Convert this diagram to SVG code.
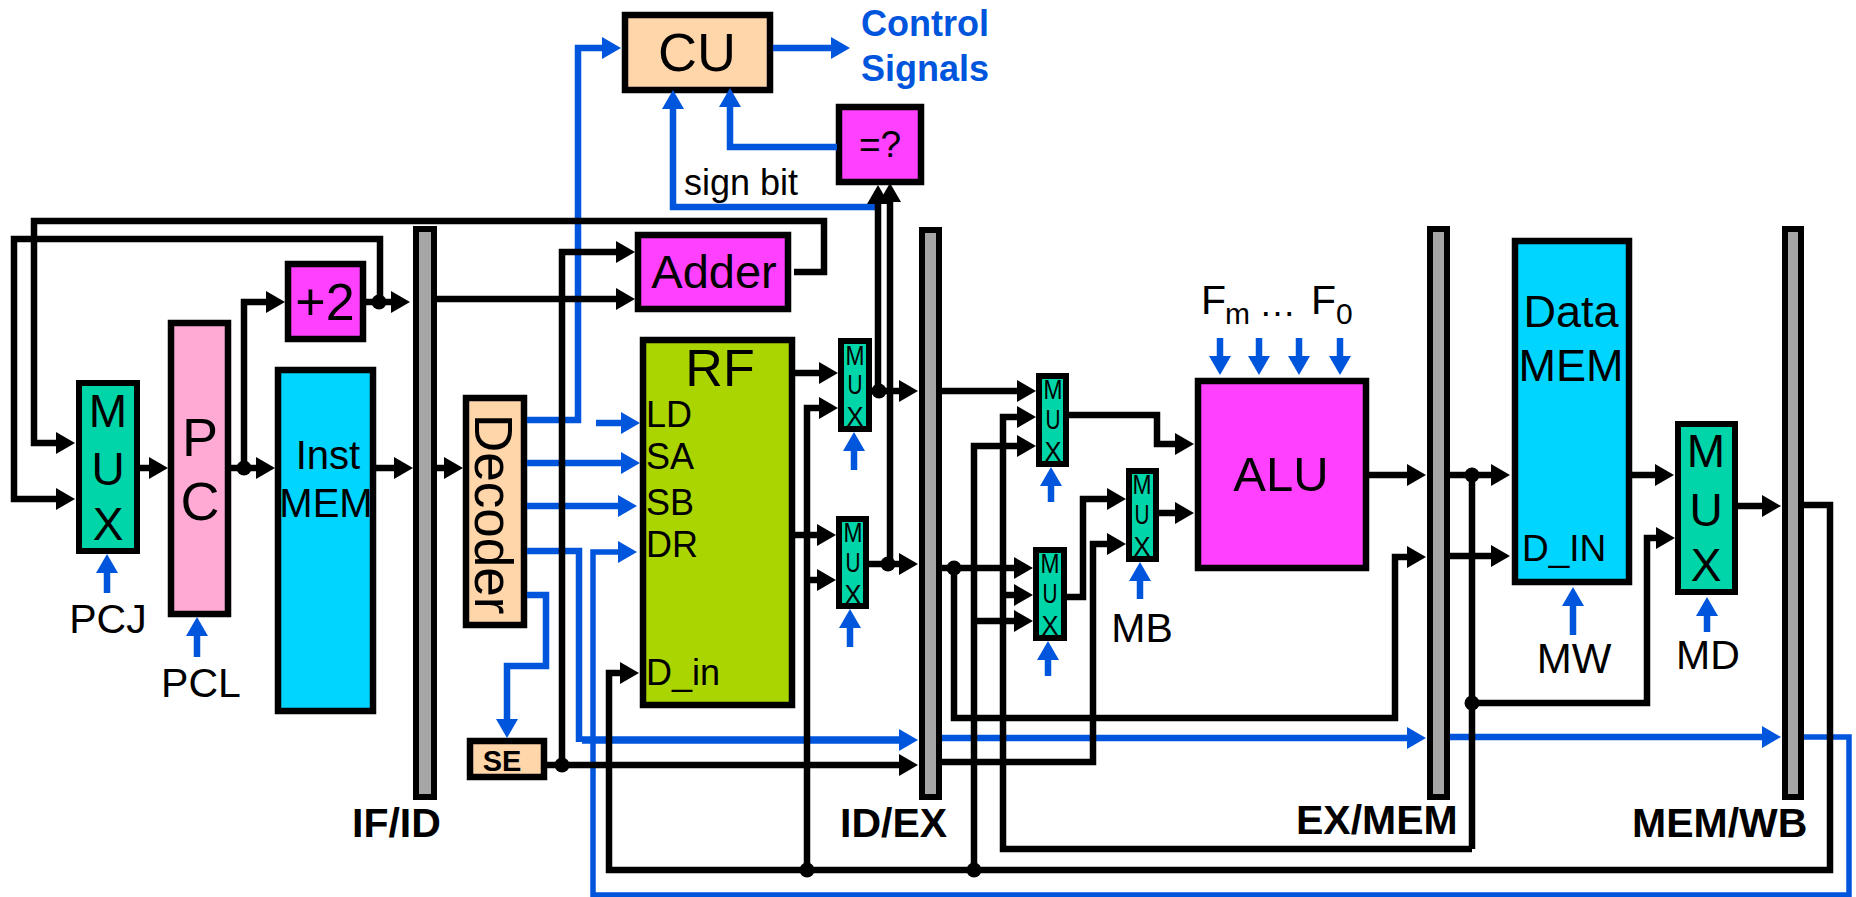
<svg xmlns="http://www.w3.org/2000/svg" width="1856" height="897" viewBox="0 0 1856 897">
<style>
text{font-family:"Liberation Sans",Arial,sans-serif;fill:#000}
.n{stroke:#000;stroke-width:6.5}
.m{fill:#00d5aa;stroke:#000;stroke-width:6}
.bar{fill:#a6a6a6;stroke:#000;stroke-width:6}
.c{text-anchor:middle}
.b{font-weight:bold}
.k{fill:none;stroke:#000;stroke-width:6.5;stroke-linejoin:miter}
.ka{marker-end:url(#ah)}
.u{fill:none;stroke:#0055dd;stroke-width:6.5;stroke-linejoin:miter}
.ua{marker-end:url(#aj)}
.s{font-size:28px;text-anchor:middle}
.l{font-size:46px;text-anchor:middle}
.r{font-size:36px}
.bl{fill:#0055dd}
</style>
<defs>
<marker id="ah" markerUnits="userSpaceOnUse" markerWidth="20" markerHeight="24" refX="1" refY="12" orient="auto"><polygon points="0,1 19,12 0,23" fill="#000"/></marker>
<marker id="aj" markerUnits="userSpaceOnUse" markerWidth="20" markerHeight="24" refX="1" refY="12" orient="auto"><polygon points="0,1 19,12 0,23" fill="#0055dd"/></marker>
</defs>
<rect width="1856" height="897" fill="#fff"/>
<g id="mux-pc"><rect class="m" x="79" y="383" width="58" height="168"/><text class="l" x="108" y="427">M</text><text class="l" x="108" y="485">U</text><text class="l" x="108" y="540">X</text></g>
<g id="pc"><rect class="n" fill="#ffaad5" x="171" y="323" width="57" height="291"/><text class="c" font-size="54" x="200" y="456">P</text><text class="c" font-size="54" x="200" y="520">C</text></g>
<g id="plus2"><rect class="n" fill="#ff40ff" x="288" y="264" width="75" height="75"/><text class="c" font-size="52" x="325" y="320">+2</text></g>
<g id="inst-mem"><rect class="n" fill="#00d5ff" x="278" y="370" width="95" height="341"/><text class="c" font-size="40" x="328" y="469">Inst</text><text class="c" font-size="40" x="326" y="517">MEM</text></g>
<g id="if-id"><rect class="bar" x="416" y="229" width="18" height="568"/><text class="b" font-size="41" x="352" y="837">IF/ID</text></g>
<g id="decoder"><rect class="n" fill="#ffd5aa" x="466" y="398" width="58" height="227"/><text font-size="53" transform="translate(475 414) rotate(90)">Decoder</text></g>
<g id="se"><rect class="n" fill="#ffd5aa" x="470" y="741" width="74" height="36"/><text class="c b" font-size="29" x="502" y="771">SE</text></g>
<g id="cu"><rect class="n" fill="#ffd5aa" x="625" y="15" width="145" height="75"/><text class="c" font-size="54" x="697" y="71">CU</text></g>
<g id="control-signals"><text class="b bl" font-size="36" style="fill:#0055dd" x="861" y="36">Control</text><text class="b bl" font-size="36" style="fill:#0055dd" x="861" y="81">Signals</text></g>
<g id="equal"><rect class="n" fill="#ff40ff" x="839" y="107" width="82" height="75"/><text class="c" font-size="37" x="880" y="157">=?</text></g>
<g id="sign-bit"><text font-size="36" x="684" y="195">sign bit</text></g>
<g id="adder"><rect class="n" fill="#ff40ff" x="638" y="235" width="150" height="74"/><text class="c" font-size="47" x="714" y="288">Adder</text></g>
<g id="rf"><rect class="n" fill="#aad500" x="643" y="340" width="149" height="365"/><text class="c" font-size="52" x="720" y="386">RF</text><text class="r" x="646" y="427">LD</text><text class="r" x="646" y="469">SA</text><text class="r" x="646" y="515">SB</text><text class="r" x="646" y="557">DR</text><text class="r" x="646" y="685">D_in</text></g>
<g id="mux-a"><rect class="m" x="841" y="341" width="28" height="88"/><text class="s" x="855" y="365" textLength="19" lengthAdjust="spacingAndGlyphs">M</text><text class="s" x="855" y="394" textLength="15" lengthAdjust="spacingAndGlyphs">U</text><text class="s" x="855" y="426" textLength="17" lengthAdjust="spacingAndGlyphs">X</text></g>
<g id="mux-b"><rect class="m" x="839" y="519" width="27" height="87"/><text class="s" x="853" y="542" textLength="19" lengthAdjust="spacingAndGlyphs">M</text><text class="s" x="853" y="572" textLength="15" lengthAdjust="spacingAndGlyphs">U</text><text class="s" x="853" y="604" textLength="17" lengthAdjust="spacingAndGlyphs">X</text></g>
<g id="id-ex"><rect class="bar" x="922" y="230" width="17" height="567"/><text class="b" font-size="41" x="840" y="837">ID/EX</text></g>
<g id="mux-c"><rect class="m" x="1039" y="376" width="27" height="88"/><text class="s" x="1053" y="399" textLength="19" lengthAdjust="spacingAndGlyphs">M</text><text class="s" x="1053" y="429" textLength="15" lengthAdjust="spacingAndGlyphs">U</text><text class="s" x="1053" y="461" textLength="17" lengthAdjust="spacingAndGlyphs">X</text></g>
<g id="mux-d"><rect class="m" x="1036" y="550" width="28" height="88"/><text class="s" x="1050" y="573" textLength="19" lengthAdjust="spacingAndGlyphs">M</text><text class="s" x="1050" y="603" textLength="15" lengthAdjust="spacingAndGlyphs">U</text><text class="s" x="1050" y="635" textLength="17" lengthAdjust="spacingAndGlyphs">X</text></g>
<g id="mux-e"><rect class="m" x="1129" y="471" width="27" height="88"/><text class="s" x="1142" y="494" textLength="19" lengthAdjust="spacingAndGlyphs">M</text><text class="s" x="1142" y="524" textLength="15" lengthAdjust="spacingAndGlyphs">U</text><text class="s" x="1142" y="556" textLength="17" lengthAdjust="spacingAndGlyphs">X</text><text class="c" font-size="41" x="1142" y="642">MB</text></g>
<g id="alu"><rect class="n" fill="#ff40ff" x="1198" y="381" width="168" height="187"/><text class="c" font-size="49" x="1281" y="491">ALU</text></g>
<g id="alu-select"><text font-size="41"><tspan x="1201" y="314">F</tspan><tspan x="1225" y="324" font-size="30">m</tspan><tspan x="1259" y="316" font-size="37">…</tspan><tspan x="1311" y="314">F</tspan><tspan x="1336" y="324" font-size="30">0</tspan></text></g>
<g id="ex-mem"><rect class="bar" x="1430" y="229" width="17" height="568"/><text class="b" font-size="41" x="1296" y="834">EX/MEM</text></g>
<g id="data-mem"><rect class="n" fill="#00d5ff" x="1515" y="241" width="114" height="341"/><text class="c" font-size="45" x="1571" y="327">Data</text><text class="c" font-size="45" x="1571" y="381">MEM</text><text font-size="37" x="1522" y="561">D_IN</text><text class="c" font-size="42" x="1574" y="673">MW</text></g>
<g id="mux-wb"><rect class="m" x="1678" y="424" width="57" height="168"/><text class="l" x="1706" y="467">M</text><text class="l" x="1706" y="526">U</text><text class="l" x="1706" y="581">X</text><text class="c" font-size="41" x="1708" y="669">MD</text></g>
<g id="mem-wb"><rect class="bar" x="1785" y="229" width="16" height="568"/><text class="b" font-size="41" x="1632" y="837">MEM/WB</text></g>
<g id="pc-labels"><text class="c" font-size="41" x="108" y="633">PCJ</text><text class="c" font-size="41" x="201" y="697">PCL</text></g>
<g id="connectors">
<path class="u ua" d="M527 420H578V48H603"/>
<path class="u ua" d="M596 423H622"/>
<path class="u ua" d="M527 463H622"/>
<path class="u ua" d="M527 506H619"/>
<path class="u" d="M527 551H579V742"/>
<path class="u ua" d="M527 595H546V666H507V720"/>
<path class="u ua" d="M1804 737H1849V895H593V552H619" style="stroke-width:5.5"/>
<path class="u ua" d="M582 740H900" style="stroke-width:7.5"/>
<path class="u ua" d="M942 738H1408"/>
<path class="u ua" d="M1450 737H1763"/>
<path class="u ua" d="M773 48H832"/>
<path class="u ua" d="M878 207H673V108"/>
<path class="u ua" d="M837 147H730V106"/>
<path class="u ua" d="M107 593V572"/>
<path class="u ua" d="M197 657V635"/>
<path class="u ua" d="M854 470V450"/>
<path class="u ua" d="M850 647V627"/>
<path class="u ua" d="M1051 502V485"/>
<path class="u ua" d="M1048 676V659"/>
<path class="u ua" d="M1140 599V580"/>
<path class="u ua" d="M1220 338V357"/>
<path class="u ua" d="M1259 338V357"/>
<path class="u ua" d="M1299 338V357"/>
<path class="u ua" d="M1340 338V357"/>
<path class="u ua" d="M1573 635V605"/>
<path class="u ua" d="M1707 632V615"/>
<path class="k ka" d="M794 272H824V221H34V443H57"/>
<path class="k ka" d="M380 302V239H14V499H57"/>
<path class="k ka" d="M140 468H150"/>
<path class="k ka" d="M231 468H257"/>
<path class="k ka" d="M244 468V302H267"/>
<path class="k ka" d="M366 302H392"/>
<path class="k ka" d="M376 468H395"/>
<path class="k ka" d="M436 468H445"/>
<path class="k ka" d="M436 299H617"/>
<path class="k ka" d="M562 765V252H617"/>
<path class="k ka" d="M547 765H900"/>
<path class="k ka" d="M795 373H820"/>
<path class="k ka" d="M807 870V408H820"/>
<path class="k ka" d="M795 535H818"/>
<path class="k ka" d="M807 580H818"/>
<path class="k ka" d="M872 391H900"/>
<path class="k ka" d="M878 391V203"/>
<path class="k ka" d="M890 564V201"/>
<path class="k ka" d="M869 564H900"/>
<path class="k ka" d="M942 391H1018"/>
<path class="k ka" d="M1472 849H1003V417H1018"/>
<path class="k ka" d="M1000 595H1015"/>
<path class="k ka" d="M1804 505H1830V870H609V673H621"/>
<path class="k ka" d="M974 870V446H1018"/>
<path class="k ka" d="M974 621H1015"/>
<path class="k ka" d="M942 568H1015"/>
<path class="k ka" d="M954 568V718H1395V557H1408"/>
<path class="k ka" d="M942 762H1093V544H1108"/>
<path class="k ka" d="M1067 597H1083V499H1108"/>
<path class="k ka" d="M1069 415H1157V444H1176"/>
<path class="k ka" d="M1159 513H1176"/>
<path class="k ka" d="M1369 475H1408"/>
<path class="k ka" d="M1450 475H1492"/>
<path class="k ka" d="M1450 556H1492"/>
<path class="k" d="M1472 475V849"/>
<path class="k ka" d="M1472 703H1647V538H1657"/>
<path class="k ka" d="M1632 475H1656"/>
<path class="k ka" d="M1738 506H1763"/>
<g id="junctions" fill="#000"><circle cx="244" cy="468" r="7.5"/><circle cx="379" cy="302" r="7.5"/><circle cx="562" cy="765" r="7.5"/><circle cx="879" cy="391" r="7.5"/><circle cx="888" cy="564" r="7.5"/><circle cx="954" cy="568" r="7.5"/><circle cx="807" cy="870" r="7.5"/><circle cx="974" cy="870" r="7.5"/><circle cx="1472" cy="475" r="7.5"/><circle cx="1472" cy="703" r="7.5"/></g>
</g>
</svg>
